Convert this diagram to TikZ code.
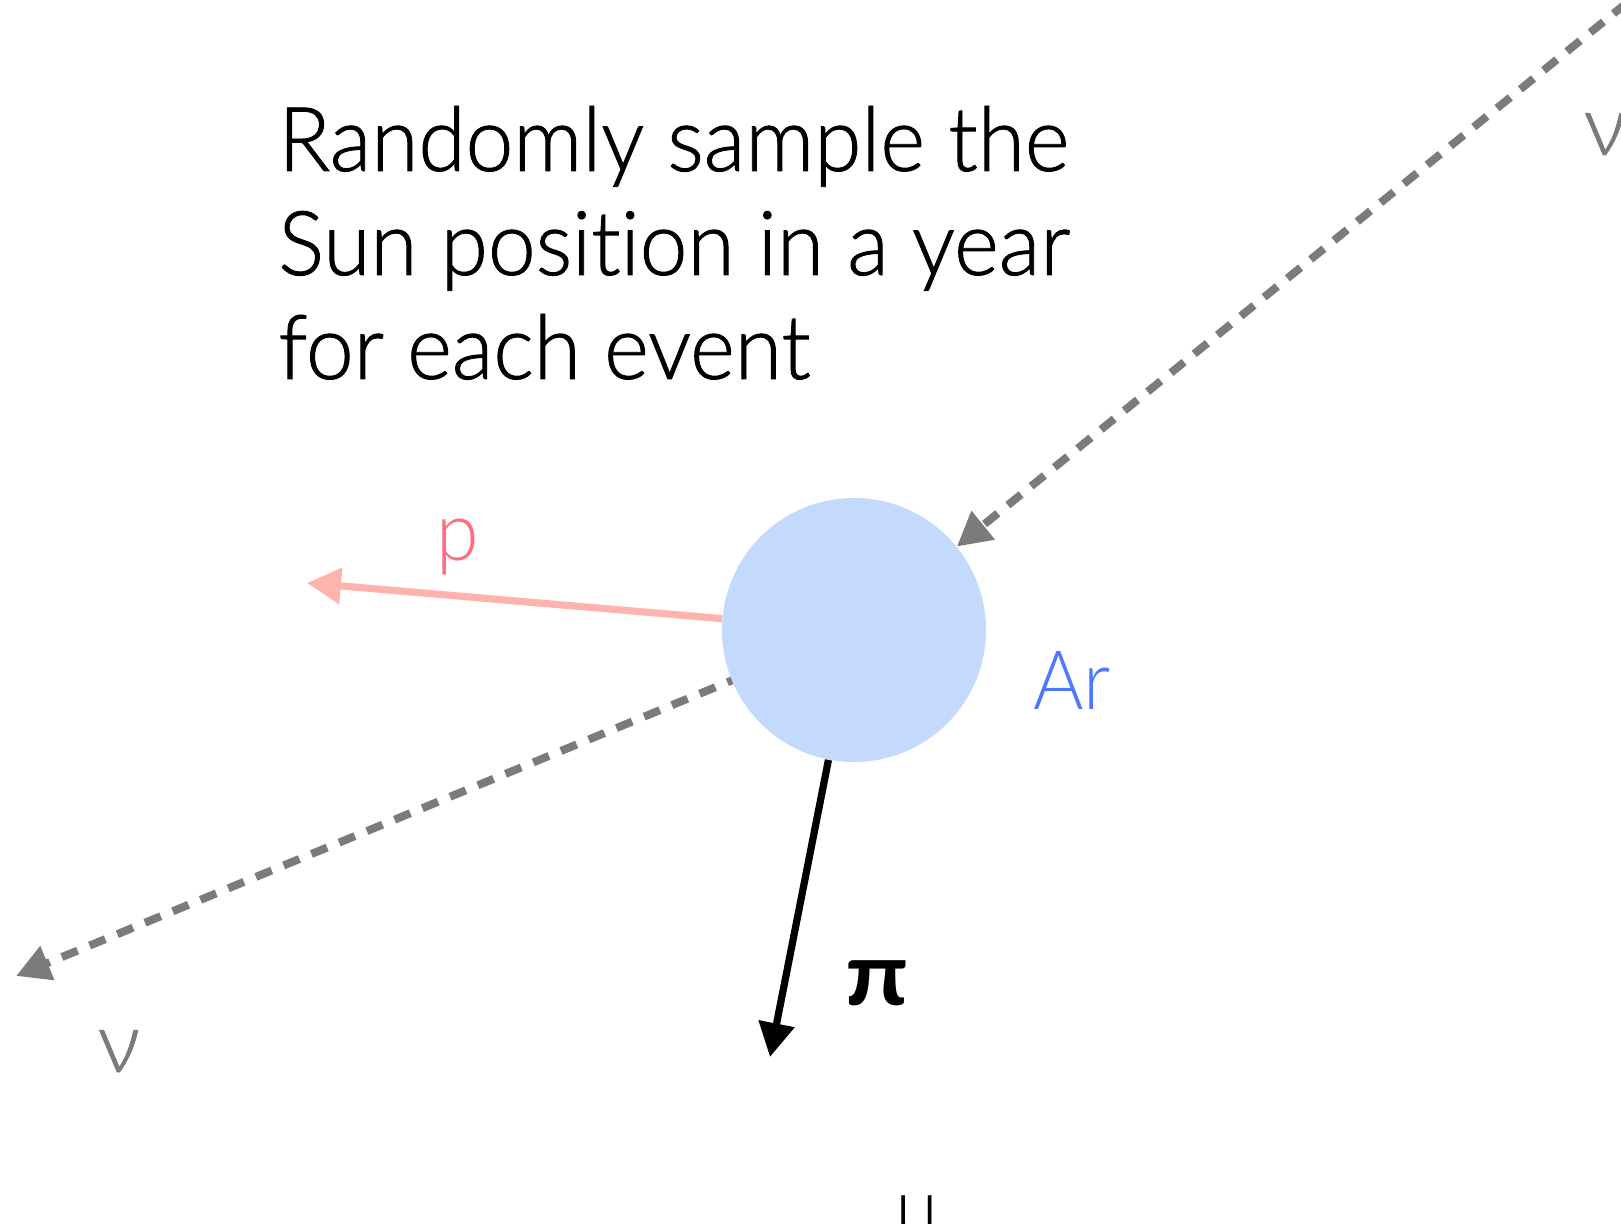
\documentclass[tikz,border=0pt]{standalone}
\usepackage{fontspec}
\IfFontExistsTF{Lato Light}{%
  \setmainfont{Lato Light}[FakeStretch=0.94, Ligatures=NoCommon, BoldFont={Lato Bold}]%
  \newfontfamily\bodyfont{Lato Light}[FakeStretch=0.958, FakeBold=1, Ligatures=NoCommon]%
  \newfontfamily\nufont{Lato Light}[FakeBold=1]%
}{%
  \setmainfont{Lato}[FakeStretch=0.94, Ligatures=NoCommon]%
  \newfontfamily\bodyfont{Lato}[FakeStretch=0.94, Ligatures=NoCommon]%
  \newfontfamily\nufont{Lato}%
}
\usetikzlibrary{arrows.meta}
\definecolor{dashgray}{HTML}{7B7B7B}
\definecolor{pinkline}{HTML}{FFB3AE}
\definecolor{pinktext}{HTML}{FF6E7F}
\definecolor{arblue}{HTML}{4E78FF}
\definecolor{arfill}{HTML}{C4DAFC}
\tikzset{
  body/.style={anchor=base west, inner sep=0pt, font=\bodyfont\fontsize{44.7pt}{52pt}\selectfont},
  lbl/.style={anchor=base, inner sep=0pt, font=\fontsize{41pt}{48pt}\selectfont},
  nulbl/.style={lbl, text=dashgray, font=\nufont\fontsize{42pt}{48pt}\selectfont},
  tip/.style={-{Triangle[length=17pt,width=17.5pt]}},
  nuline/.style={draw=dashgray, line width=4pt, dash pattern=on 8.5pt off 6.5pt, tip},
  pline/.style={draw=pinkline, line width=3.6pt, tip},
  piline/.style={draw=black, line width=3.6pt, tip},
}
\begin{document}
\begin{tikzpicture}[x=0.5pt,y=-0.5pt]
\useasboundingbox (0,0) rectangle (1621,1224);
% coordinates
\coordinate (c) at (854,630);
\coordinate (nuend) at (16,976);
\coordinate (nustart) at (1650,-16);
\coordinate (pend) at (307,583);
\coordinate (piend) at (770,1057);
% incoming/outgoing neutrino behind the argon
\draw[nuline] (c) -- (nuend);
\node[circle, fill=arfill, minimum size=132pt, inner sep=0pt] (ar) at (c) {};
\draw[nuline] (nustart) -- (ar);
\draw[pline] (ar) -- (pend);
\draw[piline] (ar) -- (piend);
% text
\node[body] (t1) at (278,171) {Randomly sample the};
\node[body] (t2) at (278,275) {Sun position in a year};
\node[body] (t3) at (278,379) {for each event};
% labels
\node[lbl, text=pinktext] (p) at (458,560) {p};
\node[lbl, text=arblue] (arl) at (1072,709) {Ar};
\node[lbl, font=\fontsize{41pt}{48pt}\selectfont\bfseries] (pi) at (877,1005) {\scalebox{1.3}[1.07]{π}};
\node[nulbl] (nu1) at (119,1072) {ν};
\node[nulbl] (nu2) at (1605,155) {ν};
\node[lbl] (mu) at (918,1236) {μ};
\end{tikzpicture}
\end{document}
